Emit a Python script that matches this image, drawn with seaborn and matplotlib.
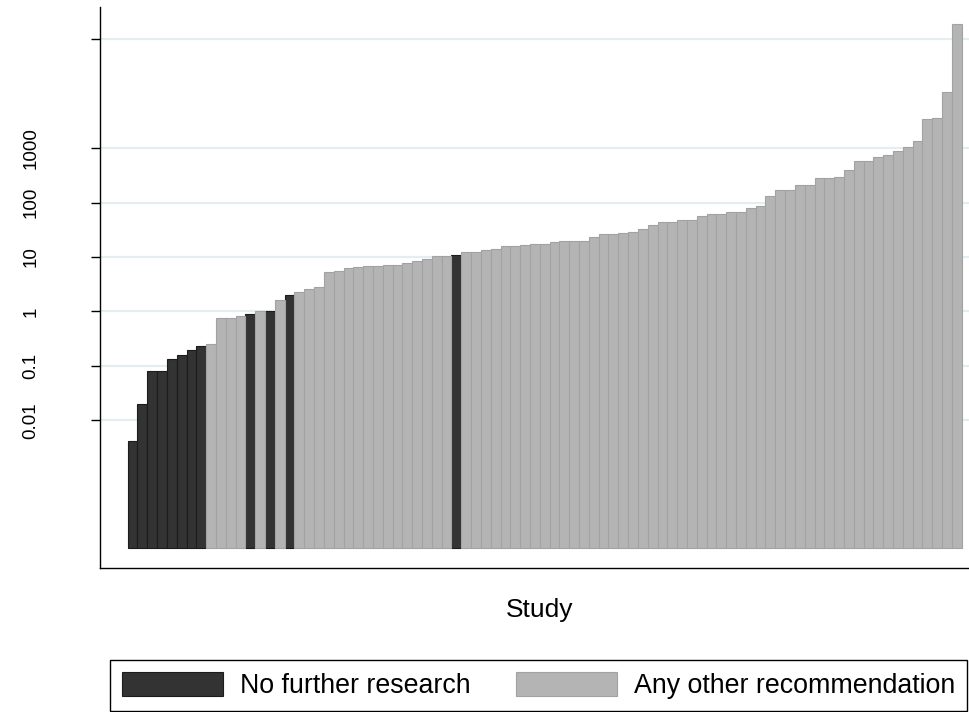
import numpy as np
import pandas as pd
import matplotlib
matplotlib.use("Agg")
import matplotlib.pyplot as plt
from matplotlib.patches import Patch
from matplotlib.ticker import NullLocator
import seaborn as sns

# value per study, sorted ascending
study_value = [0.0041, 0.0196, 0.080, 0.080, 0.132, 0.159, 0.199, 0.233, 0.253, 0.755,
               0.755, 0.82, 0.88, 1.01, 1.04, 1.64, 1.98, 2.27, 2.56, 2.83,
               5.3, 5.6, 6.2, 6.5, 6.9, 6.9, 7.0, 7.0, 7.8, 8.4,
               9.1, 10.6, 10.6, 10.9, 12.5, 12.5, 13.6, 14.0, 15.9, 15.9,
               16.5, 17.0, 17.0, 18.9, 19.4, 20.0, 20.0, 23.0, 26.1, 26.1,
               28.1, 29.3, 33.2, 39.0, 44.0, 44.0, 48.0, 48.0, 57.0, 62.0,
               62.0, 66.0, 66.0, 80.0, 85.0, 135.0, 167.0, 167.0, 209.0, 209.0,
               280.0, 285.0, 298.0, 405.0, 585.0, 585.0, 683.0, 764.0, 906.0, 1072.0,
               1384.0, 3460.0, 3567.0, 10600.0, 194000.0]

# studies (1-based rank) whose recommendation was "no further research"
no_further = [1, 2, 3, 4, 5, 6, 7, 8, 13, 15, 17, 34]

groups = ["No further research", "Any other recommendation"]
colors = {"No further research": "#333333", "Any other recommendation": "#b4b4b4"}
edges = {"No further research": "#1c1c1c", "Any other recommendation": "#a2a2a2"}

ytick_vals = [0.01, 0.1, 1, 10, 100, 1000, 100000]
ytick_labels = ["0.01", "0.1", "1", "10", "100", "1000", ""]

BASE = 4.5e-5  # bars start here (Stata-style base)

study = np.arange(1, len(study_value) + 1)
df = pd.DataFrame({"study": study, "value": study_value})
df["group"] = np.where(df["study"].isin(no_further), groups[0], groups[1])
df["height"] = df["value"] - BASE

sns.set_style("white")
plt.rcParams["font.family"] = ["Liberation Sans", "DejaVu Sans"]
plt.rcParams["text.color"] = "black"
plt.rcParams["axes.labelcolor"] = "black"
plt.rcParams["ytick.color"] = "black"

fig = plt.figure(figsize=(9.7, 7.12), dpi=100)
ax = fig.add_axes([100 / 970, 1 - 568 / 712, 869 / 970, 561 / 712])

for g in groups:
    sub = df[df["group"] == g]
    sns.barplot(data=sub, x="study", y="height", native_scale=True, width=1.0,
                bottom=BASE, color=colors[g], saturation=1, edgecolor=edges[g],
                linewidth=0.8, ax=ax, zorder=2)

ax.set_yscale("log")
ax.set_ylim(1.93e-5, 3.93e5)
ax.set_xlim(-2.32, 86.24)
ax.set_yticks(ytick_vals)
ax.set_yticklabels(ytick_labels, rotation=90, va="center", fontsize=13.5, color="black")
ax.yaxis.set_minor_locator(NullLocator())
ax.set_xticks([])
ax.set_ylabel("")
ax.set_xlabel("Study", fontsize=19, color="black")
ax.xaxis.set_label_coords(0.5063, -0.053)

ax.yaxis.grid(True, color="#e4eef0", linewidth=1.6)
ax.set_axisbelow(True)
ax.tick_params(axis="y", direction="out", length=6.5, width=1, color="black", pad=37, left=True)
for s in ["top", "right"]:
    ax.spines[s].set_visible(False)
for s in ["left", "bottom"]:
    ax.spines[s].set_color("black")
    ax.spines[s].set_linewidth(1.0)

handles = [Patch(facecolor=colors[g], edgecolor=edges[g], linewidth=0.8) for g in groups]
leg = fig.legend(handles, groups, loc="lower center", bbox_to_anchor=(538.5 / 970, 1 / 712),
                 ncol=2, fontsize=19.3, frameon=True, fancybox=False, edgecolor="black",
                 framealpha=1, handlelength=3.78, handleheight=1.0, handletextpad=0.63,
                 columnspacing=1.67, borderpad=0.45, borderaxespad=0)
leg.get_frame().set_linewidth(1.0)
for t in leg.get_texts():
    t.set_color("black")

fig.savefig("out.png", dpi=100)
